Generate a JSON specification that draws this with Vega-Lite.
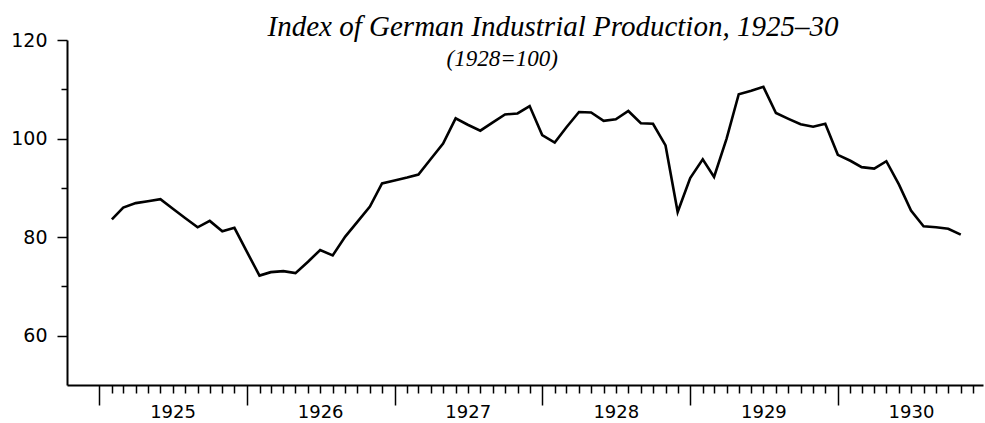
{
  "$schema": "https://vega.github.io/schema/vega-lite/v6.json",
  "width": 916,
  "height": 345,
  "autosize": {"type": "none"},
  "padding": {"left": 67, "top": 40, "right": 2, "bottom": 38},
  "background": "white",
  "title": {
    "text": "Index of German Industrial Production, 1925–30",
    "font": "Liberation Serif",
    "fontStyle": "italic",
    "fontWeight": "normal",
    "fontSize": 29,
    "color": "black",
    "anchor": "middle",
    "baseline": "alphabetic",
    "dx": 28,
    "offset": -34
  },
  "config": {
    "view": {"stroke": null},
    "axis": {
      "grid": false,
      "domainColor": "black",
      "domainWidth": 2,
      "tickColor": "black",
      "tickWidth": 1.5,
      "labelColor": "black",
      "labelFont": "DejaVu Sans"
    }
  },
  "layer": [
    {
      "data": {
        "values": [
          {"date": "1925-02-01", "index": 83.6},
          {"date": "1925-03-01", "index": 86.0},
          {"date": "1925-04-01", "index": 86.9},
          {"date": "1925-05-01", "index": 87.3},
          {"date": "1925-06-01", "index": 87.7},
          {"date": "1925-07-01", "index": 85.8},
          {"date": "1925-08-01", "index": 83.9},
          {"date": "1925-09-01", "index": 82.0},
          {"date": "1925-10-01", "index": 83.3},
          {"date": "1925-11-01", "index": 81.2},
          {"date": "1925-12-01", "index": 81.9},
          {"date": "1926-01-01", "index": 77.0},
          {"date": "1926-02-01", "index": 72.2},
          {"date": "1926-03-01", "index": 72.9},
          {"date": "1926-04-01", "index": 73.1},
          {"date": "1926-05-01", "index": 72.7},
          {"date": "1926-06-01", "index": 75.0},
          {"date": "1926-07-01", "index": 77.4},
          {"date": "1926-08-01", "index": 76.3},
          {"date": "1926-09-01", "index": 80.1},
          {"date": "1926-10-01", "index": 83.1},
          {"date": "1926-11-01", "index": 86.2},
          {"date": "1926-12-01", "index": 90.9},
          {"date": "1927-01-01", "index": 91.5},
          {"date": "1927-02-01", "index": 92.1},
          {"date": "1927-03-01", "index": 92.7},
          {"date": "1927-04-01", "index": 95.9},
          {"date": "1927-05-01", "index": 99.0},
          {"date": "1927-06-01", "index": 104.1},
          {"date": "1927-07-01", "index": 102.8},
          {"date": "1927-08-01", "index": 101.6},
          {"date": "1927-09-01", "index": 103.3},
          {"date": "1927-10-01", "index": 104.9},
          {"date": "1927-11-01", "index": 105.1},
          {"date": "1927-12-01", "index": 106.6},
          {"date": "1928-01-01", "index": 100.7},
          {"date": "1928-02-01", "index": 99.2},
          {"date": "1928-03-01", "index": 102.3},
          {"date": "1928-04-01", "index": 105.4},
          {"date": "1928-05-01", "index": 105.3},
          {"date": "1928-06-01", "index": 103.6},
          {"date": "1928-07-01", "index": 103.9},
          {"date": "1928-08-01", "index": 105.6},
          {"date": "1928-09-01", "index": 103.1},
          {"date": "1928-10-01", "index": 103.0},
          {"date": "1928-11-01", "index": 98.6},
          {"date": "1928-12-01", "index": 85.1},
          {"date": "1929-01-01", "index": 92.0},
          {"date": "1929-02-01", "index": 95.8},
          {"date": "1929-03-01", "index": 92.2},
          {"date": "1929-04-01", "index": 100.0},
          {"date": "1929-05-01", "index": 109.0},
          {"date": "1929-06-01", "index": 109.7},
          {"date": "1929-07-01", "index": 110.5},
          {"date": "1929-08-01", "index": 105.2},
          {"date": "1929-09-01", "index": 104.0},
          {"date": "1929-10-01", "index": 102.9},
          {"date": "1929-11-01", "index": 102.4},
          {"date": "1929-12-01", "index": 103.0},
          {"date": "1930-01-01", "index": 96.7},
          {"date": "1930-02-01", "index": 95.5},
          {"date": "1930-03-01", "index": 94.2},
          {"date": "1930-04-01", "index": 93.9},
          {"date": "1930-05-01", "index": 95.4},
          {"date": "1930-06-01", "index": 90.7},
          {"date": "1930-07-01", "index": 85.4},
          {"date": "1930-08-01", "index": 82.2},
          {"date": "1930-09-01", "index": 82.0},
          {"date": "1930-10-01", "index": 81.7},
          {"date": "1930-11-01", "index": 80.5}
        ]
      },
      "mark": {"type": "line", "color": "black", "strokeWidth": 2.6},
      "encoding": {
        "x": {
          "field": "date",
          "type": "temporal",
          "scale": {
            "type": "utc",
            "nice": false,
            "domain": [
              {"year": 1924, "month": 10, "date": 13, "utc": true},
              {"year": 1930, "month": 12, "date": 26, "utc": true}
            ]
          },
          "axis": {
            "title": null,
            "tickCount": {"interval": "month", "step": 1},
            "tickSize": {
              "condition": [
                {"test": "utcyear(datum.value) < 1925", "value": 0},
                {"test": "utcmonth(datum.value) == 0", "value": 20}
              ],
              "value": 8
            },
            "labelExpr": "utcmonth(datum.value) == 6 ? utcFormat(datum.value, '%Y') : ''",
            "labelOverlap": false,
            "labelFlush": false,
            "labelFontSize": 18,
            "labelPadding": 10
          }
        },
        "y": {
          "field": "index",
          "type": "quantitative",
          "scale": {"domain": [50, 120], "nice": false, "zero": false},
          "axis": {
            "title": null,
            "values": [60, 70, 80, 90, 100, 110, 120],
            "labelExpr": "datum.value % 20 == 0 ? datum.label : ''",
            "tickSize": {"condition": {"test": "datum.value % 20 == 0", "value": 10}, "value": 6},
            "labelFontSize": 19,
            "labelPadding": 10
          }
        }
      }
    },
    {
      "data": {"values": [{"note": "(1928=100)"}]},
      "mark": {
        "type": "text",
        "font": "Liberation Serif",
        "fontStyle": "italic",
        "fontSize": 23,
        "color": "black",
        "align": "center",
        "baseline": "middle"
      },
      "encoding": {
        "x": {"datum": {"year": 1927, "month": 9, "date": 24, "utc": true}, "type": "temporal"},
        "y": {"datum": 116.1, "type": "quantitative"},
        "text": {"field": "note"}
      }
    }
  ]
}
